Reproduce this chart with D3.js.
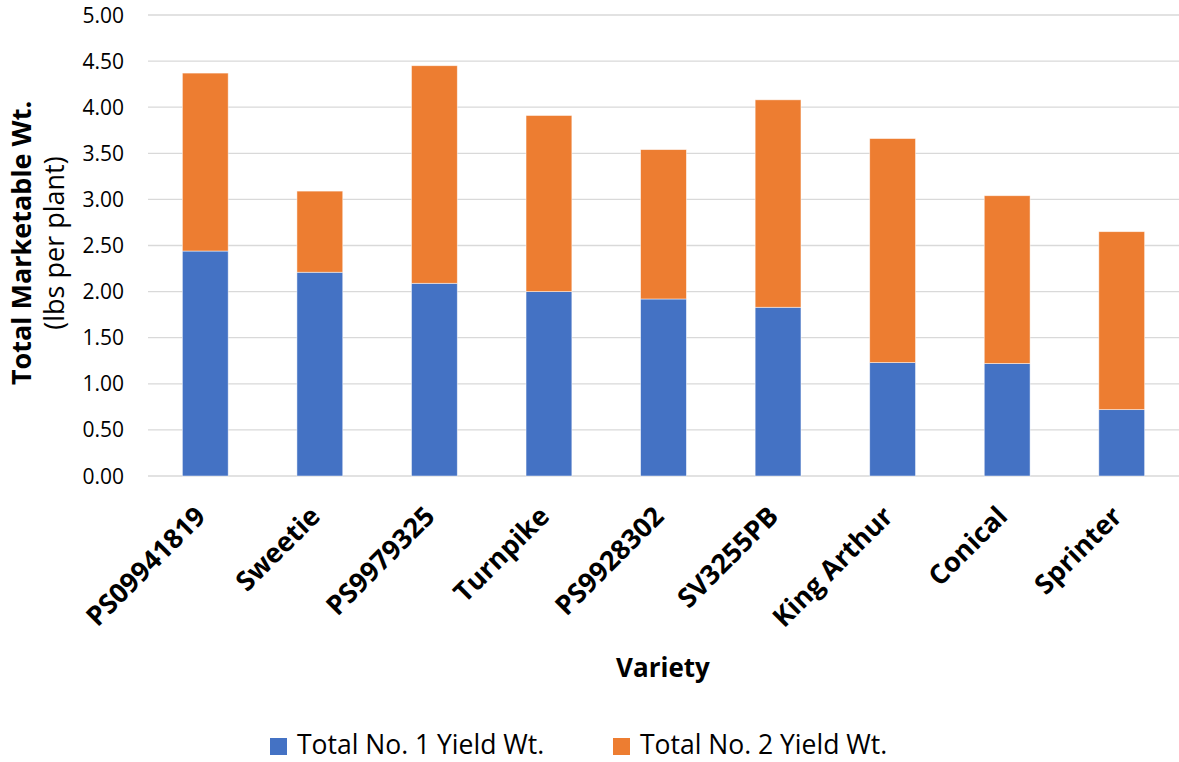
<!DOCTYPE html>
<html><head><meta charset="utf-8">
<script src="https://cdn.jsdelivr.net/npm/d3@7"></script>
<style>body{margin:0;background:#fff;} svg{display:block;} text{font-family:"Open Sans",sans-serif;}</style>
</head><body>
<svg id="chart" width="1179" height="762"></svg>
<script>
const categories = ["PS09941819","Sweetie","PS9979325","Turnpike","PS9928302","SV3255PB","King Arthur","Conical","Sprinter"];
const no1Yield = [2.44, 2.21, 2.09, 2.00, 1.92, 1.83, 1.23, 1.22, 0.72];
const no2Yield = [1.93, 0.88, 2.36, 1.91, 1.62, 2.25, 2.43, 1.82, 1.93];
const seriesNames = ["Total No. 1 Yield Wt.", "Total No. 2 Yield Wt."];
const seriesColors = ["#4472C4", "#ED7D31"];
const yTicks = [0, 0.5, 1, 1.5, 2, 2.5, 3, 3.5, 4, 4.5, 5];

const svg = d3.select("#chart");
const pLeft = 148, pRight = 1179, pTop = 15, pBottom = 476;

const x = d3.scaleBand().domain(categories).range([pLeft, pRight]).paddingInner(0.6).paddingOuter(0.3);
const y = d3.scaleLinear().domain([0, 5]).range([pBottom, pTop]);

// gridlines
svg.append("g").selectAll("line").data(yTicks).join("line")
  .attr("x1", pLeft).attr("x2", pRight)
  .attr("y1", d => y(d)).attr("y2", d => y(d))
  .attr("stroke", "#d9d9d9").attr("stroke-width", 1.3);

// y tick labels
svg.append("g").selectAll("text").data(yTicks).join("text")
  .attr("x", 124).attr("y", d => y(d)).attr("dy", "0.36em")
  .attr("text-anchor", "end").attr("font-size", 21).attr("fill", "#000")
  .text(d => d.toFixed(2));

const rows = categories.map((c, i) => ({cat: c, a: no1Yield[i], b: no2Yield[i]}));
const stack = d3.stack().keys(["a", "b"])(rows);

svg.append("g").selectAll("g").data(stack).join("g")
  .attr("fill", (d, i) => seriesColors[i])
  .selectAll("rect").data(d => d).join("rect")
  .attr("x", d => x(d.data.cat)).attr("width", x.bandwidth())
  .attr("y", d => y(d[1])).attr("height", d => y(d[0]) - y(d[1]))
  .attr("stroke", "#fff").attr("stroke-width", 0.8).attr("stroke-opacity", 0.6);

// x labels
svg.append("g").selectAll("text").data(categories).join("text")
  .attr("transform", d => `translate(${x(d) + x.bandwidth()/2 + 2},${518}) rotate(-45)`)
  .attr("text-anchor", "end").attr("font-size", 27).attr("font-weight", "bold").attr("fill", "#000")
  .text(d => d);

// axis titles
svg.append("text").attr("x", 663).attr("y", 677).attr("text-anchor", "middle")
  .attr("font-size", 26).attr("font-weight", "bold").text("Variety");

const yt = svg.append("text").attr("transform", "translate(0,243) rotate(-90)")
  .attr("text-anchor", "middle").attr("font-size", 27);
yt.append("tspan").attr("x", 0).attr("y", 31).attr("font-weight", "bold").text("Total Marketable Wt.");
yt.append("tspan").attr("x", 0).attr("y", 64).text("(lbs per plant)");

// legend
const legendX = [270, 613];
const lg = svg.append("g").selectAll("g").data(seriesNames).join("g")
  .attr("transform", (d, i) => `translate(${legendX[i]},738)`);
lg.append("rect").attr("width", 17).attr("height", 17).attr("fill", (d, i) => seriesColors[i]);
lg.append("text").attr("x", 27).attr("y", 16).attr("font-size", 26.5).attr("fill", "#000").text(d => d);
</script>
</body></html>
